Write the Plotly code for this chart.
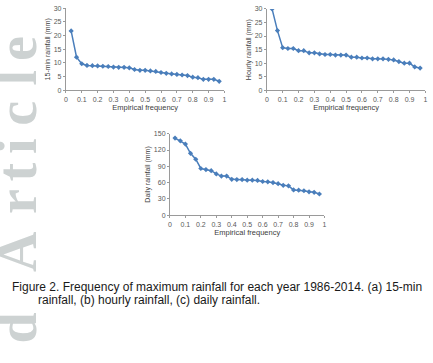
import plotly.graph_objects as go

W, H = 433, 363

freq = [0.033, 0.067, 0.100, 0.133, 0.167, 0.200, 0.233, 0.267, 0.300, 0.333,
        0.367, 0.400, 0.433, 0.467, 0.500, 0.533, 0.567, 0.600, 0.633, 0.667,
        0.700, 0.733, 0.767, 0.800, 0.833, 0.867, 0.900, 0.933, 0.967]

rain_15min = [21.7, 12.1, 9.7, 9.1, 9.0, 8.9, 8.8, 8.7, 8.5, 8.4,
              8.4, 8.2, 7.6, 7.3, 7.3, 7.1, 6.9, 6.5, 6.2, 6.0,
              5.8, 5.6, 5.4, 4.8, 4.6, 4.0, 4.0, 4.0, 3.3]

rain_hourly = [30.0, 22.0, 15.7, 15.4, 15.4, 14.6, 14.6, 13.8, 13.8, 13.4,
               13.2, 13.2, 13.0, 13.0, 13.0, 12.2, 12.2, 11.9, 11.9, 11.6,
               11.6, 11.6, 11.4, 11.2, 10.6, 10.0, 10.0, 8.6, 8.2]

rain_daily = [142, 137, 131, 114, 103, 86, 84, 82, 76, 72,
              72, 66, 65.5, 65.5, 64.5, 64.5, 64, 62, 61.5, 60,
              58, 55, 54, 46.5, 46, 45, 43, 42, 39]

y_titles = ["15-min rainfall (mm)", "Hourly rainfall (mm)", "Daily rainfall (mm)"]
x_title = "Empirical frequency"
caption_1 = "Figure 2. Frequency of maximum rainfall for each year 1986-2014. (a) 15-min"
caption_2 = "rainfall, (b) hourly rainfall, (c) daily rainfall."

# watermark letters (top to bottom on the page) and their centre rows in px
wm_letters = ["e", "l", "c", "i", "t", "r", "A", "d"]
wm_rows = [45, 75, 111, 145, 171, 201, 252, 330]


def px_x(p):
    return p / W


def px_y(p):
    return 1 - p / H


# pixel boxes: (x0, x1, y_bottom(0), y_top(max))
boxes = [
    (64.5, 224.5, 88.0, 4.3),
    (267.3, 427.3, 88.0, 5.0),
    (169.5, 325.5, 215.3, 132.3),
]
yranges = [[0, 30], [0, 30], [0, 150]]
ydticks = [5, 5, 30]
series = [rain_15min, rain_hourly, rain_daily]

fig = go.Figure()

LINE = "#4A7EBB"
AX = "#9A9A9A"
TXT = "#595959"
FONT = "Liberation Sans"

for i, (vals, box) in enumerate(zip(series, boxes)):
    n = "" if i == 0 else str(i + 1)
    fig.add_trace(go.Scatter(
        x=freq, y=vals, mode="lines+markers",
        line=dict(color=LINE, width=1.5),
        marker=dict(symbol="diamond", size=4, color=LINE),
        xaxis="x" + n, yaxis="y" + n, showlegend=False,
        hoverinfo="skip",
    ))
    x0, x1, yb, yt = box
    fig.update_layout(**{
        "xaxis" + n: dict(
            domain=[px_x(x0), px_x(x1)], range=[0, 1], dtick=0.1,
            anchor="y" + n, showgrid=False, zeroline=False,
            showline=True, linecolor=AX, linewidth=1,
            ticks="outside", ticklen=2, tickcolor=AX, tickwidth=1,
            tickfont=dict(family=FONT, size=7, color=TXT),
            title=dict(text=x_title, font=dict(family=FONT, size=7.5, color="#404040"),
                       standoff=3),
        ),
        "yaxis" + n: dict(
            domain=[px_y(yb), px_y(yt)], range=yranges[i], dtick=ydticks[i],
            anchor="x" + n, showgrid=False, zeroline=False,
            showline=True, linecolor=AX, linewidth=1,
            ticks="outside", ticklen=2, tickcolor=AX, tickwidth=1,
            tickfont=dict(family=FONT, size=7, color=TXT),
            title=dict(text=y_titles[i], font=dict(family=FONT, size=7, color="#404040"),
                       standoff=2),
        ),
    })

annotations = []
for ch, row in zip(wm_letters, wm_rows):
    annotations.append(dict(
        text="<b>" + ch + "</b>", x=px_x(15), y=px_y(row), xref="paper", yref="paper",
        xanchor="center", yanchor="middle", showarrow=False, textangle=-90,
        font=dict(family="Liberation Serif", size=56, color="#CDD2D2"),
    ))

annotations.append(dict(
    text=caption_1, x=px_x(8), y=px_y(288.3), xref="paper", yref="paper",
    xanchor="left", yanchor="middle", showarrow=False,
    font=dict(family=FONT, size=12, color="#1a1a1a"),
))
annotations.append(dict(
    text=caption_2, x=px_x(34.5), y=px_y(302.3), xref="paper", yref="paper",
    xanchor="left", yanchor="middle", showarrow=False,
    font=dict(family=FONT, size=12, color="#1a1a1a"),
))

fig.update_layout(
    width=W, height=H,
    margin=dict(l=0, r=0, t=0, b=0),
    paper_bgcolor="white", plot_bgcolor="white",
    annotations=annotations,
)

fig.write_html("out.html")
